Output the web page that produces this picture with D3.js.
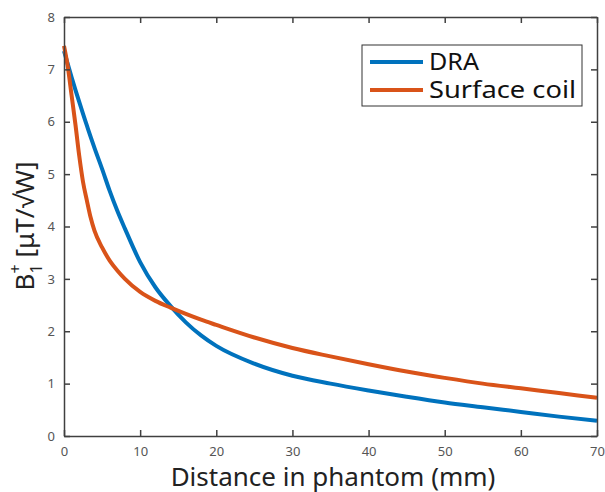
<!DOCTYPE html>
<html>
<head>
<meta charset="utf-8">
<script src="https://cdn.jsdelivr.net/npm/d3@7"></script>
<style>
  body { margin: 0; background: #fff; }
  svg { display: block; font-family: "Noto Sans", "Open Sans", sans-serif; }
</style>
</head>
<body>
<div id="chart"></div>
<script>
// distance in phantom (mm)
var distance = [0, 0.5, 1, 1.5, 2, 2.5, 3, 3.5, 4, 5, 6, 7, 8, 10, 12, 14, 16, 18, 20, 25, 30, 35, 40, 45, 50, 55, 60, 65, 70];
// B1+ values
var draValues = [7.35, 7.10, 6.85, 6.61, 6.38, 6.15, 5.93, 5.71, 5.50, 5.10, 4.68, 4.30, 3.96, 3.32, 2.84, 2.48, 2.17, 1.92, 1.72, 1.38, 1.15, 1.00, 0.87, 0.75, 0.64, 0.55, 0.46, 0.37, 0.29];
var coilValues = [7.45, 7.05, 6.50, 5.95, 5.35, 4.85, 4.50, 4.17, 3.92, 3.60, 3.35, 3.16, 3.00, 2.75, 2.58, 2.45, 2.33, 2.22, 2.12, 1.88, 1.68, 1.52, 1.37, 1.23, 1.11, 1.00, 0.91, 0.82, 0.73];
var seriesNames = ['DRA', 'Surface coil'];
var xTicks = [0, 10, 20, 30, 40, 50, 60, 70];
var yTicks = [0, 1, 2, 3, 4, 5, 6, 7, 8];

var colors = ['#0072BD', '#D95319'];

var w = 605, h = 492;
var mLeft = 64, mRight = 597, mTop = 17, mBottom = 436;

var svg = d3.select('#chart').append('svg')
  .attr('width', w)
  .attr('height', h);

var x = d3.scaleLinear().domain([0, 70]).range([mLeft, mRight]);
var y = d3.scaleLinear().domain([0, 8]).range([mBottom, mTop]);

var axisColor = '#404040';
var tickText = '#555';

// lines
var series = [draValues, coilValues];
var line = d3.line()
  .x(function(d) { return x(d[0]); })
  .y(function(d) { return y(d[1]); })
  .curve(d3.curveMonotoneX);

series.forEach(function(vals, k) {
  svg.append('path')
    .datum(distance.map(function(dx, i) { return [dx, vals[i]]; }))
    .attr('fill', 'none')
    .attr('stroke', colors[k])
    .attr('stroke-width', 4)
    .attr('stroke-linejoin', 'round')
    .attr('d', line);
});

// axes: bottom / left with labels, top / right with ticks only (ticks point inward)
function styleAxis(g) {
  g.attr('font-size', 13).attr('font-family', null);
  g.selectAll('path').attr('stroke', axisColor).attr('stroke-width', 1.5);
  g.selectAll('line').attr('stroke', axisColor).attr('stroke-width', 1.5);
  g.selectAll('text').attr('fill', tickText);
}

svg.append('g')
  .attr('transform', 'translate(0,' + mBottom + ')')
  .call(d3.axisBottom(x).tickValues(xTicks).tickSizeInner(-6).tickSizeOuter(0).tickPadding(11))
  .call(styleAxis);

svg.append('g')
  .attr('transform', 'translate(0,' + mTop + ')')
  .call(d3.axisTop(x).tickValues(xTicks).tickSizeInner(-6).tickSizeOuter(0).tickFormat(''))
  .call(styleAxis);

svg.append('g')
  .attr('transform', 'translate(' + mLeft + ',0)')
  .call(d3.axisLeft(y).tickValues(yTicks).tickSizeInner(-6).tickSizeOuter(0).tickPadding(9))
  .call(styleAxis);

svg.append('g')
  .attr('transform', 'translate(' + mRight + ',0)')
  .call(d3.axisRight(y).tickValues(yTicks).tickSizeInner(-6).tickSizeOuter(0).tickFormat(''))
  .call(styleAxis);

// x label
svg.append('text')
  .attr('x', 333)
  .attr('y', 486)
  .attr('text-anchor', 'middle')
  .attr('fill', '#222')
  .style('font-size', '26px')
  .text('Distance in phantom (mm)');

// y label: B1+ [uT/sqrt(W)]
var yl = svg.append('text')
  .attr('transform', 'translate(34,226) rotate(-90)')
  .attr('text-anchor', 'middle')
  .attr('fill', '#222')
  .style('font-size', '26px');
yl.append('tspan').text('B');
yl.append('tspan').attr('dy', 8).style('font-size', '16px').text('1');
yl.append('tspan').attr('dy', -21).attr('dx', -9).style('font-size', '16px').text('+');
yl.append('tspan').attr('dy', 13).text(' [μT/√W]');

// legend
var legendWidths = [50, 147];
var lg = svg.append('g');
lg.append('rect')
  .attr('x', 362).attr('y', 45)
  .attr('width', 220).attr('height', 61)
  .attr('fill', '#fff')
  .attr('stroke', '#333')
  .attr('stroke-width', 1);

seriesNames.forEach(function(name, k) {
  var ly = 62 + k * 28;
  lg.append('line')
    .attr('x1', 370).attr('x2', 423)
    .attr('y1', ly).attr('y2', ly)
    .attr('stroke', colors[k])
    .attr('stroke-width', 4);
  lg.append('text')
    .attr('x', 429)
    .attr('y', ly + 8)
    .attr('fill', '#111')
    .attr('textLength', legendWidths[k])
    .attr('lengthAdjust', 'spacingAndGlyphs')
    .style('font-size', '24px')
    .text(name);
});
</script>
</body>
</html>
